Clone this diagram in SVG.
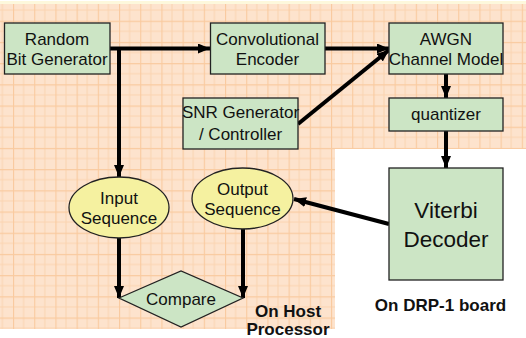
<svg xmlns="http://www.w3.org/2000/svg" width="526" height="338" viewBox="0 0 526 338">
<defs>
<pattern id="grid" patternUnits="userSpaceOnUse" x="13" y="-0.5" width="21.2" height="21.2">
<rect width="21.2" height="21.2" fill="#fde3cd"/>
<path d="M10.6 0V21.2M0 10.6H21.2" stroke="#fbd4b0" stroke-width="1"/>
<path d="M0.5 0V21.2M0 0.5H21.2" stroke="#f9ca9f" stroke-width="1.2"/>
</pattern>
<marker id="ah" viewBox="0 0 12 10" refX="12" refY="5" markerUnits="userSpaceOnUse" markerWidth="12" markerHeight="10" orient="auto">
<path d="M0 0L12 5L0 10Z" fill="#000"/>
</marker>
<style>
.box{fill:#cce5c5;stroke:#222;stroke-width:1.3}
.ell{fill:#f5f1a0;stroke:#222;stroke-width:1.3}
.t{font-family:"Liberation Sans",Arial,sans-serif;font-size:17px;fill:#111;text-anchor:middle}
.big{font-size:22.5px}
.lbl{font-family:"Liberation Sans",Arial,sans-serif;font-size:17px;font-weight:bold;fill:#111;text-anchor:middle}
.c{fill:none;stroke:#000;stroke-width:4;marker-end:url(#ah)}
</style>
</defs>
<rect width="526" height="338" fill="#fff"/>
<rect x="0" y="1" width="526" height="3" fill="#fdf8dc"/>
<path d="M0 4H526V149H335V329H0Z" fill="url(#grid)"/>
<g id="connectors">
<path class="c" d="M110 48.5H210"/>
<path class="c" d="M119 48.5V177"/>
<path class="c" d="M325 48.5H389"/>
<path class="c" d="M298 124L389 50"/>
<path class="c" d="M446 74V98"/>
<path class="c" d="M446 131V168"/>
<path class="c" d="M389 224L294 199"/>
<path class="c" d="M119 238V298"/>
<path class="c" d="M243 229V298"/>
</g>
<g id="random">
<rect class="box" x="4.5" y="23" width="105.5" height="51"/>
<text class="t" x="57" y="45">Random</text>
<text class="t" x="57" y="65">Bit Generator</text>
</g>
<g id="encoder">
<rect class="box" x="210.5" y="23" width="114.5" height="51"/>
<text class="t" x="267.5" y="45">Convolutional</text>
<text class="t" x="267.5" y="65">Encoder</text>
</g>
<g id="awgn">
<rect class="box" x="389" y="23" width="114" height="51"/>
<text class="t" x="446" y="45">AWGN</text>
<text class="t" x="446" y="65">Channel Model</text>
</g>
<g id="quantizer">
<rect class="box" x="389" y="98" width="114" height="33"/>
<text class="t" x="446" y="120">quantizer</text>
</g>
<g id="snr">
<rect class="box" x="183" y="98" width="115" height="51"/>
<text class="t" x="240.5" y="118">SNR Generator</text>
<text class="t" x="240.5" y="140">/ Controller</text>
</g>
<g id="viterbi">
<rect class="box" x="389" y="168" width="114" height="112"/>
<text class="t big" x="446" y="218">Viterbi</text>
<text class="t big" x="446" y="247">Decoder</text>
</g>
<g id="input">
<ellipse class="ell" cx="119" cy="207.5" rx="50" ry="30.5"/>
<text class="t" x="119" y="204">Input</text>
<text class="t" x="119" y="224">Sequence</text>
</g>
<g id="output">
<ellipse class="ell" cx="242.5" cy="198.5" rx="50.5" ry="30.5"/>
<text class="t" x="242.5" y="195">Output</text>
<text class="t" x="242.5" y="215">Sequence</text>
</g>
<g id="compare">
<path class="box" d="M119 298L181 271L243 298L181 327Z"/>
<text class="t" x="181" y="305">Compare</text>
</g>
<g id="labels">
<text class="lbl" x="288" y="317">On Host</text>
<text class="lbl" x="288" y="335">Processor</text>
<text class="lbl" x="440.5" y="311">On DRP-1 board</text>
</g>
</svg>
